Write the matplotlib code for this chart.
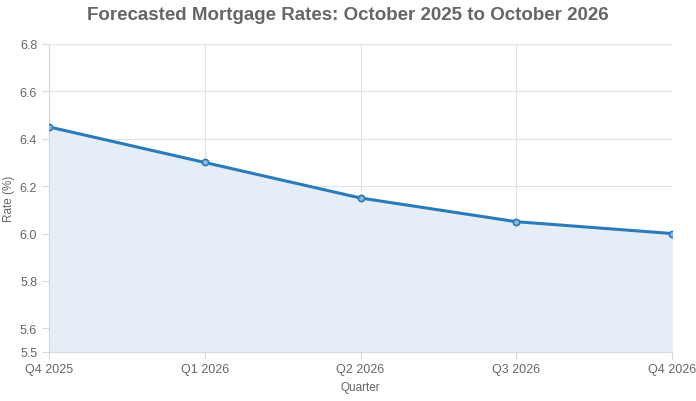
import matplotlib
matplotlib.use("Agg")
import matplotlib.pyplot as plt

quarters = ["Q4 2025", "Q1 2026", "Q2 2026", "Q3 2026", "Q4 2026"]
rates = [6.45, 6.30, 6.15, 6.05, 6.00]
y_ticks = [5.5, 5.6, 5.8, 6.0, 6.2, 6.4, 6.6, 6.8]
y_tick_labels = ["5.5", "5.6", "5.8", "6.0", "6.2", "6.4", "6.6", "6.8"]

plt.rcParams['font.family'] = ['Liberation Sans', 'DejaVu Sans']

fig = plt.figure(figsize=(6.96, 4.02), dpi=100)
ax = fig.add_axes([49/696, 49/402, (672-49)/696, (353-45)/402])

x = list(range(len(quarters)))
line_color = "#2b7bba"
ax.fill_between(x, rates, 5.5, color="#e5eef7", zorder=1)
ax.plot(x, rates, color=line_color, linewidth=2.2, zorder=3,
        marker="o", markersize=4.5, markerfacecolor="#8fb8dc",
        markeredgecolor=line_color, markeredgewidth=1.2)

ax.set_xlim(0, len(quarters) - 1)
ax.set_ylim(5.5, 6.8)
ax.set_xticks(x)
ax.set_xticklabels(quarters)
ax.set_yticks(y_ticks)
ax.set_yticklabels(y_tick_labels)

ax.grid(True, color="#e2e2e2", linewidth=0.8, zorder=0)
ax.set_axisbelow(True)
for s in ["top", "right"]:
    ax.spines[s].set_visible(False)
for s in ["left", "bottom"]:
    ax.spines[s].set_color("#d8d8d8")
    ax.spines[s].set_linewidth(0.8)
ax.tick_params(axis="both", colors="#d8d8d8", labelcolor="#666666",
               labelsize=9, length=5, width=0.8)
ax.tick_params(axis="x", pad=3)

ax.set_xlabel("Quarter", color="#666666", fontsize=8.5)
ax.set_ylabel("Rate (%)", color="#666666", fontsize=8.5)
ax.yaxis.set_label_coords((9 - 49) / 623, 0.5)
ax.xaxis.set_label_coords(0.5, (353 - 388) / 308)
ax.yaxis.label.set_va("center")
ax.xaxis.label.set_va("center")

fig.text(0.5, 1 - 16/402, "Forecasted Mortgage Rates: October 2025 to October 2026",
         ha="center", va="center", fontsize=13.5, fontweight="bold", color="#666666")

fig.savefig("out.png", dpi=100)
